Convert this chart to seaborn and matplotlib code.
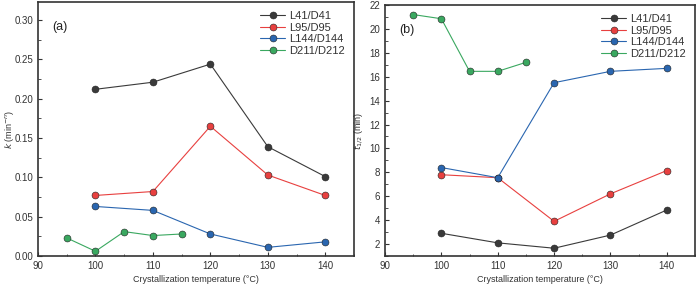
import matplotlib
matplotlib.use("Agg")
import matplotlib.pyplot as plt
import seaborn as sns
import pandas as pd
from matplotlib.ticker import MultipleLocator

temps = [100, 110, 120, 130, 140]
temps_d = [95, 100, 105, 110, 115]
series = ["L41/D41", "L95/D95", "L144/D144", "D211/D212"]

k_L41 = [0.212, 0.221, 0.244, 0.139, 0.101]
k_L95 = [0.077, 0.082, 0.165, 0.103, 0.077]
k_L144 = [0.063, 0.058, 0.028, 0.011, 0.018]
k_D211 = [0.023, 0.006, 0.031, 0.026, 0.028]

t_L41 = [2.9, 2.1, 1.65, 2.75, 4.85]
t_L95 = [7.8, 7.55, 3.9, 6.2, 8.15]
t_L144 = [8.4, 7.55, 15.5, 16.45, 16.7]
t_D211 = [21.2, 20.85, 16.45, 16.45, 17.2]

colors = ["#3a3a3a", "#e8403f", "#2a66b0", "#3aa860"]

sns.set_style("ticks")
plt.rcParams['font.family'] = ['Liberation Sans', 'DejaVu Sans']

def make_df(vals):
    rows = []
    for name, xs, ys in zip(series, [temps, temps, temps, temps_d], vals):
        for x, y in zip(xs, ys):
            rows.append({"T": x, "v": y, "s": name})
    return pd.DataFrame(rows)

dfk = make_df([k_L41, k_L95, k_L144, k_D211])
dft = make_df([t_L41, t_L95, t_L144, t_D211])

fig = plt.figure(figsize=(6.97, 2.85), dpi=100)
ax1 = fig.add_axes([38/697, 1 - 256/285, 316/697, 254/285])
ax2 = fig.add_axes([385/697, 1 - 256/285, 310/697, 251/285])

for ax, df in [(ax1, dfk), (ax2, dft)]:
    sns.lineplot(data=df, x="T", y="v", hue="s", palette=colors, hue_order=series,
                 marker="o", markersize=5, markeredgecolor="#222222", markeredgewidth=0.4,
                 linewidth=0.8, ax=ax, legend=True)
    ax.set_xlim(90, 145)
    ax.xaxis.set_major_locator(MultipleLocator(10))
    ax.xaxis.set_minor_locator(MultipleLocator(5))
    ax.tick_params(which="both", direction="in", labelsize=7, color="#333333", labelcolor="#333333")
    ax.tick_params(which="major", length=3, width=0.8)
    ax.tick_params(which="minor", length=1.8, width=0.6)
    for sp in ax.spines.values():
        sp.set_linewidth(1.2)
        sp.set_color("#333333")
    ax.set_xlabel("Crystallization temperature (°C)", fontsize=6.5, color="#333333", labelpad=3)
    leg = ax.legend(loc="upper right", frameon=False, fontsize=8, handlelength=2.2,
                    labelspacing=0.15, borderaxespad=0.4, handletextpad=0.4)
    for t in leg.get_texts():
        t.set_color("#333333")

ax1.set_ylim(0, 0.323)
ax1.yaxis.set_major_locator(MultipleLocator(0.05))
ax1.yaxis.set_minor_locator(MultipleLocator(0.025))
ax1.yaxis.set_major_formatter(matplotlib.ticker.FormatStrFormatter("%.2f"))
ax1.set_ylabel(r"$k$ (min$^{-n}$)", fontsize=6.5, color="#333333")
ax1.yaxis.set_label_coords(-0.07, 0.5)
ax1.text(0.045, 0.90, "(a)", transform=ax1.transAxes, fontsize=9, color="#222222", va="center")

ax2.set_ylim(1, 22)
ax2.yaxis.set_major_locator(MultipleLocator(2))
ax2.yaxis.set_minor_locator(MultipleLocator(1))
ax2.set_ylabel(r"$t_{1/2}$ (min)", fontsize=6.5, color="#333333")
ax2.yaxis.set_label_coords(-0.065, 0.5)
ax2.text(0.045, 0.90, "(b)", transform=ax2.transAxes, fontsize=9, color="#222222", va="center")

fig.savefig("out.png", dpi=100)
